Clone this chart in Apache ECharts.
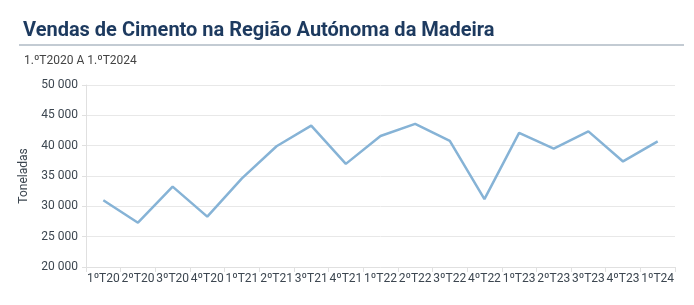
<!DOCTYPE html>
<html><head><meta charset="utf-8">
<script src="https://cdn.jsdelivr.net/npm/echarts@6/dist/echarts.min.js"></script>
<style>html,body{margin:0;padding:0;background:#fff}#c{width:694px;height:305px}</style>
</head><body><div id="c"></div>
<script>
const categories = ['1ºT20','2ºT20','3ºT20','4ºT20','1ºT21','2ºT21','3ºT21','4ºT21','1ºT22','2ºT22','3ºT22','4ºT22','1ºT23','2ºT23','3ºT23','4ºT23','1ºT24'];
const toneladas = [31000,27300,33250,28300,34600,39900,43300,37000,41600,43600,40800,31200,42100,39500,42350,37400,40700];
const titleText = 'Vendas de Cimento na Região Autónoma da Madeira';
const subtitleText = '1.ºT2020 A 1.ºT2024';
const yName = 'Toneladas';

const chart = echarts.init(document.getElementById('c'), null, {renderer:'canvas'});
chart.setOption({
  animation:false,
  title:[{text:titleText, left:18, top:16, textStyle:{fontFamily:'Roboto', fontSize:20, fontWeight:'bold', color:'#1d3a5f'}},
         {text:subtitleText, left:19, top:50, textStyle:{fontFamily:'Roboto', fontSize:12, fontWeight:'normal', color:'#444'}}],
  graphic:[{type:'rect', shape:{x:19, y:44, width:665, height:2}, style:{fill:'#c3cbd3'}}],
  grid:{left:86, right:19, top:85, bottom:38},
  xAxis:{type:'category', data:categories, boundaryGap:true,
    axisLine:{lineStyle:{color:'#e0e0e0'}},
    axisTick:{show:true, lineStyle:{color:'#e0e0e0'}},
    axisLabel:{fontFamily:'Roboto', fontSize:12, color:'#3c4650', interval:0, margin:6}},
  yAxis:{type:'value', min:20000, max:50000, interval:5000, name:yName, nameLocation:'middle', nameGap:56,
    nameTextStyle:{fontFamily:'Roboto', fontSize:12, color:'#3c4650'},
    axisLine:{show:true, lineStyle:{color:'#e0e0e0'}},
    axisTick:{show:true, length:4, lineStyle:{color:'#e0e0e0'}},
    splitLine:{lineStyle:{color:'#e8e8e8'}},
    axisLabel:{fontFamily:'Roboto', fontSize:12, color:'#3c4650', margin:8,
      formatter:v=>String(v).replace(/\B(?=(\d{3})+(?!\d))/g,' ')}},
  series:[{type:'line', data:toneladas, symbol:'none', lineStyle:{color:'#86b3d6', width:2.5}}]
});
</script></body></html>
